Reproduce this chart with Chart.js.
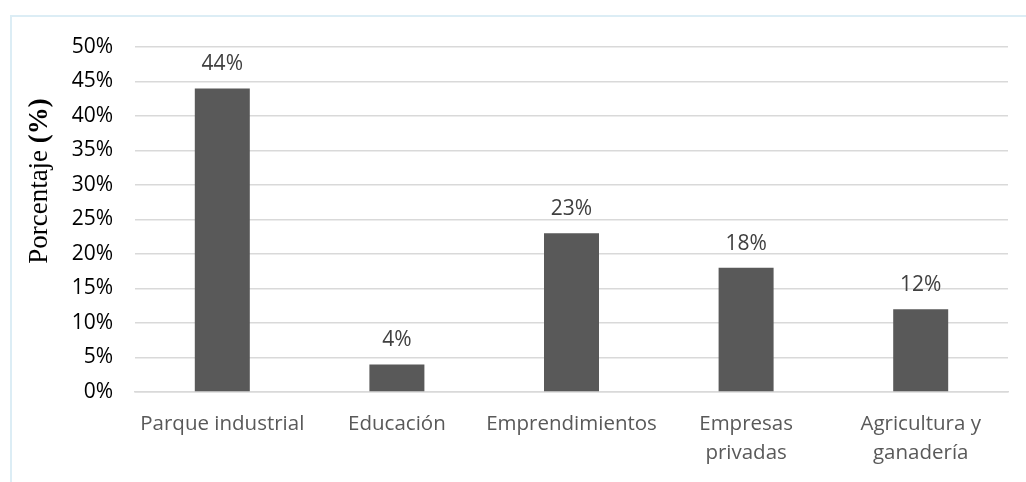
<!DOCTYPE html>
<html><head><meta charset="utf-8">
<script src="https://cdn.jsdelivr.net/npm/chart.js@4.4.1/dist/chart.umd.min.js"></script>
<style>
html,body{margin:0;padding:0;background:#fff;}
#wrap{position:relative;width:1026px;height:482px;}
#frame{position:absolute;left:10px;top:15px;width:1016px;height:467px;border-top:2px solid #dcedf5;border-left:2px solid #dcedf5;box-sizing:border-box;pointer-events:none;}
canvas{position:absolute;left:0;top:0;}
</style></head>
<body><div id="wrap"><canvas id="c" width="1026" height="482"></canvas><div id="frame"></div></div>
<script>
const categories = [["Parque industrial"], ["Educación"], ["Emprendimientos"], ["Empresas", "privadas"], ["Agricultura y", "ganadería"]];
const values = [44, 4, 23, 18, 12];
const yTicks = [0, 5, 10, 15, 20, 25, 30, 35, 40, 45, 50];

const labelPlugin = {
  id: 'labels',
  afterDatasetsDraw(chart) {
    const ctx = chart.ctx;
    const meta = chart.getDatasetMeta(0);
    ctx.save();
    ctx.font = '21px "Open Sans"';
    ctx.fillStyle = '#404040';
    ctx.textAlign = 'center';
    ctx.textBaseline = 'middle';
    meta.data.forEach((bar, i) => {
      ctx.fillText(values[i] + '%', bar.x, bar.y - 24);
    });
    ctx.restore();
  }
};
const titlePlugin = {
  id: 'ytitle',
  afterDraw(chart) {
    const ctx = chart.ctx;
    ctx.save();
    ctx.translate(40, 181);
    ctx.rotate(-Math.PI / 2);
    ctx.fillStyle = '#000';
    ctx.textBaseline = 'middle';
    const f1 = '27px "Liberation Serif"', f2 = 'bold 27px "Liberation Serif"';
    ctx.font = f1; const w1 = ctx.measureText('Porcentaje ').width;
    ctx.font = f2; const w2 = ctx.measureText('(%)').width;
    let x = -(w1 + w2) / 2;
    ctx.font = f1; ctx.fillText('Porcentaje ', x, 0);
    ctx.font = f2; ctx.fillText('(%)', x + w1, 0);
    ctx.restore();
  }
};

new Chart(document.getElementById('c'), {
  type: 'bar',
  data: { labels: categories, datasets: [{ data: values, backgroundColor: '#595959', barPercentage: 0.63, categoryPercentage: 0.5 }] },
  options: {
    responsive: false, animation: false,
    layout: { padding: { left: 0, right: 18, top: 47, bottom: 0 } },
    plugins: { legend: { display: false }, tooltip: { enabled: false } },
    scales: {
      y: {
        min: 0, max: 50,
        afterFit(s) { s.width = 135; },
        afterBuildTicks(s) { s.ticks = yTicks.map(v => ({ value: v })); },
        ticks: { callback: v => v + '%', color: '#000', font: { family: '"Open Sans"', size: 21 }, padding: 22 },
        grid: { color: '#d9d9d9', lineWidth: 1.5, drawTicks: false },
        border: { display: false }
      },
      x: {
        afterFit(s) { s.height = 90; },
        ticks: { color: '#595959', font: { family: '"Open Sans"', size: 20.5, lineHeight: 1.45 }, padding: 17, maxRotation: 0, autoSkip: false },
        grid: { display: false, drawTicks: false },
        border: { color: '#d9d9d9', width: 1.5 }
      }
    }
  },
  plugins: [labelPlugin, titlePlugin]
});
</script></body></html>
